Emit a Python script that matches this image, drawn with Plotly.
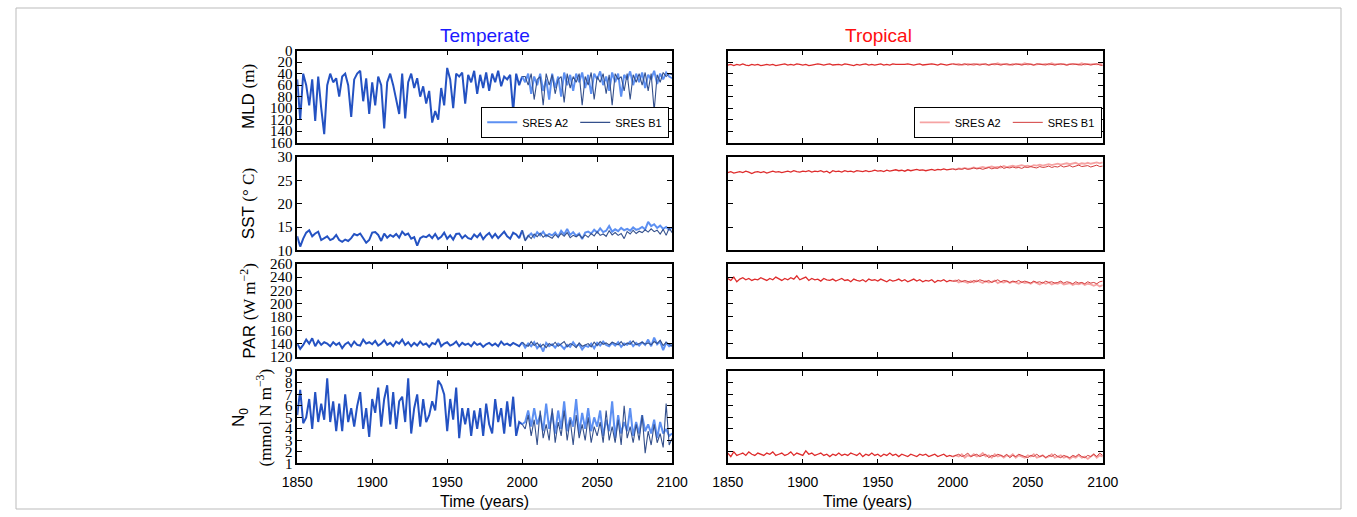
import plotly.graph_objects as go

# ---------------- data (2-year steps) ----------------
years_hist = list(range(1850, 2001, 2))      # 76 points, shared history
years_fut = list(range(2002, 2101, 2))       # 50 points, scenarios

x_ticks = [1850, 1900, 1950, 2000, 2050, 2100]
mld_ticks = [0, 20, 40, 60, 80, 100, 120, 140, 160]
sst_ticks = [10, 15, 20, 25, 30]
par_ticks = [120, 140, 160, 180, 200, 220, 240, 260]
n0_ticks = [1, 2, 3, 4, 5, 6, 7, 8, 9]

# Temperate
temp_mld_hist = [50, 120, 40, 60, 95, 50, 122, 45, 100, 145,
                 60, 40, 55, 48, 80, 45, 40, 60, 115, 50,
                 40, 35, 88, 48, 110, 55, 95, 45, 60, 135,
                 55, 40, 60, 85, 110, 40, 118, 55, 40, 65,
                 48, 80, 62, 92, 70, 125, 105, 120, 65, 95,
                 30, 50, 100, 40, 45, 38, 92, 42, 55, 35,
                 75, 42, 65, 38, 70, 40, 55, 35, 62, 45,
                 50, 42, 105, 40, 60, 45]
temp_mld_a2 = [55, 40, 75, 45, 60, 40, 70, 50, 85, 40,
               65, 45, 80, 38, 60, 42, 70, 40, 55, 38,
               65, 42, 75, 40, 50, 36, 60, 45, 70, 38,
               55, 40, 80, 42, 50, 36, 60, 40, 55, 38,
               65, 42, 50, 35, 58, 40, 50, 38, 45, 48]
temp_mld_b1 = [45, 60, 40, 85, 50, 45, 95, 40, 60, 42,
               75, 50, 45, 90, 40, 65, 45, 55, 40, 95,
               45, 60, 38, 85, 45, 55, 40, 75, 42, 95,
               40, 50, 45, 70, 40, 85, 42, 55, 40, 60,
               38, 70, 40, 105, 42, 55, 38, 45, 40, 42]

temp_sst_hist = [13.0, 10.8, 12.5, 13.8, 14.3, 13.0, 13.6, 14.0, 12.2, 12.6,
                 13.0, 12.2, 12.5, 13.3, 12.2, 11.8, 12.3, 12.0, 12.6, 13.5,
                 13.2, 13.6, 12.6, 11.6, 12.2, 13.8, 13.9, 13.3, 12.0, 13.6,
                 12.7, 13.3, 12.9, 13.5, 12.7, 14.0, 13.3, 13.6, 12.5, 12.8,
                 11.0, 12.6, 13.0, 12.8, 13.3, 12.6, 13.5, 12.4, 12.9, 13.8,
                 12.5, 13.2, 12.3, 13.5, 13.6, 12.6, 13.2, 12.6, 12.4, 13.4,
                 12.8, 13.6, 12.4, 13.2, 13.7, 12.7, 13.5, 12.6, 13.3, 14.0,
                 13.0, 12.5, 13.8, 13.4, 12.6, 14.3]
temp_sst_a2 = [12.2, 13.0, 13.6, 12.8, 13.9, 13.2, 14.0, 13.0, 13.5, 13.2,
               13.8, 12.9, 14.2, 13.4, 14.6, 13.3, 13.9, 13.1, 13.6, 12.4,
               13.8, 14.0, 13.6, 14.4, 13.8, 14.7, 13.9, 14.2, 15.2, 14.0,
               14.5, 14.1, 14.8, 14.3, 14.6, 14.2, 14.9, 14.4, 14.6, 15.0,
               14.5, 16.1, 15.2, 15.6, 14.8, 15.3, 14.6, 15.0, 14.4, 14.9]
temp_sst_b1 = [12.0, 13.2, 12.5, 13.5, 12.9, 13.7, 12.8, 13.3, 13.0, 12.6,
               13.4, 12.8, 13.6, 13.0, 13.8, 12.7, 13.2, 12.9, 13.4, 12.6,
               13.3, 12.8, 13.6, 13.1, 14.0, 13.2, 13.5, 13.0, 14.2, 13.3,
               13.8, 13.2, 13.6, 12.5, 14.0, 13.5, 14.3, 13.6, 14.1, 13.8,
               14.4, 13.9, 14.6, 14.0, 14.3, 13.5, 14.5, 13.2, 14.8, 13.8]

temp_par_hist = [140, 132, 138, 146, 140, 148, 136, 144, 138, 142,
                 140, 136, 142, 138, 141, 133, 139, 142, 136, 143,
                 138, 137, 146, 140, 142, 139, 144, 137, 140, 145,
                 138, 141, 136, 143, 140, 146, 138, 142, 136, 141,
                 137, 143, 138, 140, 135, 141, 139, 147, 136, 140,
                 142, 137, 139, 143, 136, 141, 138, 140, 136, 142,
                 138, 140, 135, 139, 141, 137, 140, 136, 143, 138,
                 140, 137, 141, 138, 136, 142]
temp_par_a2 = [134, 140, 136, 142, 133, 138, 128, 141, 136, 139,
               134, 140, 137, 132, 138, 135, 142, 136, 139, 131,
               137, 135, 140, 133, 141, 137, 143, 138, 136, 141,
               137, 142, 135, 140, 138, 143, 136, 141, 137, 142,
               138, 146, 136, 149, 139, 143, 130, 141, 136, 138]
temp_par_b1 = [138, 136, 143, 137, 141, 135, 139, 134, 140, 137,
               142, 136, 139, 143, 135, 140, 138, 134, 141, 136,
               138, 140, 135, 142, 137, 143, 139, 141, 138, 142,
               140, 138, 143, 137, 141, 139, 144, 138, 140, 142,
               139, 141, 138, 143, 140, 145, 137, 142, 139, 136]

temp_n0_hist = [5.2, 7.4, 4.5, 5.0, 6.6, 4.0, 7.2, 4.6, 6.2, 4.8,
                8.4, 4.6, 6.4, 3.8, 6.2, 3.8, 7.0, 4.6, 5.8, 4.2,
                6.0, 7.2, 4.0, 5.8, 3.3, 6.6, 5.4, 7.6, 4.2, 6.6,
                7.8, 4.4, 7.2, 4.0, 6.4, 6.8, 4.6, 8.4, 3.6, 5.8,
                7.0, 4.2, 6.6, 4.6, 5.2, 6.4, 5.6, 8.2, 7.8, 7.0,
                3.8, 6.6, 4.8, 7.6, 3.2, 5.8, 4.4, 5.8, 3.4, 5.6,
                4.0, 5.8, 3.4, 6.2, 4.4, 3.6, 6.6, 4.6, 5.8, 3.6,
                6.4, 4.2, 6.8, 3.4, 4.6, 4.4]
temp_n0_a2 = [4.6, 5.6, 4.2, 5.8, 4.4, 5.2, 3.8, 6.2, 4.0, 5.4,
              3.6, 5.6, 4.0, 6.4, 3.8, 5.0, 4.2, 6.6, 3.6, 5.4,
              4.0, 5.8, 3.8, 5.0, 4.2, 5.6, 3.4, 4.8, 3.8, 6.4,
              3.2, 5.2, 3.6, 4.6, 3.8, 5.8, 3.4, 4.6, 3.6, 5.2,
              3.8, 4.4, 3.6, 4.8, 3.2, 4.6, 3.6, 4.0, 3.4, 3.6]
temp_n0_b1 = [4.0, 5.2, 3.4, 4.8, 2.6, 5.6, 3.2, 4.4, 3.0, 5.8,
              2.8, 4.6, 3.4, 5.6, 3.0, 4.8, 2.6, 5.2, 3.2, 4.4,
              3.0, 5.0, 2.8, 4.2, 3.4, 4.6, 2.8, 5.6, 3.0, 4.2,
              2.8, 4.8, 2.6, 6.0, 3.2, 4.2, 2.8, 4.4, 3.0, 5.2,
              1.9, 3.8, 2.6, 4.4, 2.8, 3.6, 2.4, 6.2, 2.6, 3.2]

# Tropical
trop_mld_hist = [25, 24, 26, 24, 25, 23, 25, 26, 24, 25,
                 24, 26, 25, 24, 25, 24, 26, 25, 24, 23,
                 25, 24, 25, 23, 24, 25, 24, 26, 25, 24,
                 23, 24, 25, 24, 23, 25, 24, 24, 25, 23,
                 24, 25, 26, 24, 25, 24, 23, 25, 24, 25,
                 24, 23, 25, 24, 25, 23, 24, 24, 25, 24,
                 23, 24, 25, 24, 23, 25, 24, 24, 23, 24,
                 25, 23, 24, 25, 24, 23]
trop_mld_a2 = [24, 23, 25, 24, 23, 24, 25, 23, 24, 23,
               24, 25, 23, 24, 22, 24, 23, 24, 25, 23,
               24, 23, 24, 22, 24, 23, 25, 24, 23, 24,
               23, 24, 22, 24, 23, 24, 23, 25, 23, 24,
               23, 24, 22, 24, 23, 24, 23, 24, 23, 24]
trop_mld_b1 = [24, 25, 24, 23, 25, 24, 23, 24, 25, 24,
               23, 25, 24, 23, 24, 25, 24, 23, 24, 25,
               23, 24, 25, 24, 23, 24, 25, 23, 24, 24,
               25, 23, 24, 25, 24, 23, 24, 25, 24, 23,
               24, 24, 25, 23, 24, 25, 24, 23, 25, 26]

trop_sst_hist = [26.7, 26.9, 26.6, 26.8, 26.9, 26.7, 27.0, 26.8, 26.5, 26.8,
                 26.9, 26.7, 26.9, 26.6, 26.8, 27.0, 26.8, 26.9, 26.7, 26.9,
                 27.0, 26.8, 27.1, 26.9, 26.8, 27.0, 26.9, 27.1, 26.8, 27.0,
                 26.9, 27.1, 26.8, 27.0, 26.6, 27.1, 26.9, 27.0, 26.8, 27.1,
                 26.9, 27.0, 26.8, 27.1, 27.0, 26.9, 27.1, 26.9, 27.0, 27.2,
                 27.0, 27.1, 26.9, 27.2, 27.0, 27.1, 27.3, 27.1, 27.2, 27.0,
                 27.3, 27.1, 27.2, 27.4, 27.2, 27.3, 27.1, 27.3, 27.4, 27.2,
                 27.4, 27.3, 27.5, 27.3, 27.4, 27.5]
trop_sst_a2 = [27.4, 27.6, 27.5, 27.7, 27.5, 27.6, 27.8, 27.6, 27.7, 27.9,
               27.7, 27.8, 28.0, 27.8, 27.9, 27.8, 28.1, 27.9, 28.0, 28.2,
               28.0, 28.1, 28.3, 28.1, 28.2, 28.0, 28.3, 28.2, 28.4, 28.2,
               28.3, 28.5, 28.3, 28.4, 28.6, 28.4, 28.5, 28.7, 28.5, 28.6,
               28.8, 28.5, 28.7, 28.6, 28.8, 28.6, 28.7, 28.9, 28.7, 28.9]
trop_sst_b1 = [27.3, 27.5, 27.4, 27.6, 27.4, 27.5, 27.7, 27.5, 27.6, 27.4,
               27.6, 27.8, 27.5, 27.7, 27.6, 28.1, 27.6, 27.8, 27.7, 27.9,
               27.7, 27.8, 27.6, 27.9, 27.8, 28.0, 27.8, 27.7, 28.0, 27.8,
               27.9, 28.1, 27.8, 28.0, 27.9, 28.2, 27.9, 28.0, 28.2, 27.9,
               28.1, 28.3, 28.0, 28.1, 28.2, 27.9, 28.1, 28.3, 28.0, 28.1]

trop_par_hist = [238, 235, 240, 233, 237, 239, 236, 238, 235, 237,
                 236, 239, 237, 235, 238, 236, 240, 237, 235, 238,
                 236, 239, 237, 242, 236, 238, 240, 235, 238, 236,
                 237, 234, 238, 236, 235, 237, 234, 236, 238, 235,
                 236, 233, 237, 235, 234, 236, 233, 237, 235, 236,
                 234, 237, 235, 233, 236, 234, 235, 237, 234, 236,
                 233, 235, 237, 234, 236, 233, 235, 234, 236, 232,
                 235, 234, 236, 233, 235, 234]
trop_par_a2 = [235, 232, 234, 233, 231, 234, 232, 235, 233, 231,
               234, 232, 233, 235, 231, 233, 232, 234, 231, 233,
               232, 230, 233, 231, 232, 230, 233, 231, 229, 232,
               230, 232, 229, 231, 230, 232, 229, 230, 231, 228,
               230, 229, 231, 228, 230, 229, 227, 229, 226, 228]
trop_par_b1 = [234, 236, 233, 235, 234, 232, 235, 233, 236, 234,
               233, 235, 232, 234, 236, 233, 235, 234, 232, 234,
               233, 235, 232, 234, 233, 231, 234, 232, 233, 231,
               234, 232, 233, 231, 232, 234, 231, 233, 232, 230,
               233, 231, 232, 230, 233, 231, 232, 230, 233, 234]

trop_n0_hist = [1.9, 1.6, 2.0, 1.7, 1.8, 1.9, 1.7, 2.0, 1.8, 1.7,
                1.9, 1.8, 1.7, 1.9, 1.8, 2.0, 1.7, 1.8, 1.9, 1.7,
                1.8, 2.0, 1.7, 1.9, 1.8, 1.7, 2.1, 1.8, 1.9, 1.7,
                1.8, 1.9, 1.7, 1.8, 1.6, 1.8, 1.7, 1.9, 1.7, 1.8,
                1.7, 1.9, 1.8, 1.7, 1.9, 1.6, 1.8, 1.7, 1.9, 1.7,
                1.8, 1.6, 1.8, 1.7, 1.9, 1.7, 1.8, 1.6, 1.8, 1.7,
                1.6, 1.8, 1.7, 1.6, 1.8, 1.7, 1.8, 1.6, 1.7, 1.8,
                1.6, 1.7, 1.8, 1.6, 1.7, 1.6]
trop_n0_a2 = [1.7, 1.6, 1.8, 1.5, 1.7, 1.6, 1.8, 1.6, 1.7, 1.9,
              1.6, 1.7, 1.5, 1.8, 1.6, 1.7, 1.5, 1.7, 1.6, 1.8,
              1.5, 1.7, 1.6, 1.5, 1.7, 1.6, 1.8, 1.5, 1.6, 1.7,
              1.5, 1.6, 1.8, 1.5, 1.6, 1.7, 1.5, 1.6, 1.4, 1.6,
              1.5, 1.7, 1.5, 1.6, 1.4, 1.6, 1.8, 1.5, 1.7, 1.6]
trop_n0_b1 = [1.7, 1.8, 1.6, 1.7, 1.9, 1.6, 1.7, 1.8, 1.6, 1.7,
              1.8, 1.5, 1.7, 1.6, 1.8, 1.7, 1.6, 1.8, 1.5, 1.7,
              1.6, 1.8, 1.7, 1.6, 1.5, 1.7, 1.6, 1.8, 1.6, 1.7,
              1.5, 1.7, 1.6, 1.8, 1.6, 1.5, 1.7, 1.6, 1.5, 1.7,
              1.6, 1.8, 1.6, 1.5, 1.7, 1.6, 1.8, 1.6, 1.9, 1.7]

# ---------------- styling ----------------
W, H = 1357, 517
SANS = "Liberation Sans, Arial, sans-serif"
SERIF = "Liberation Serif, Times New Roman, serif"

col_x = [(288, 672), (729, 1113)]
row_y = [(44, 139), (154, 250), (264, 360), (375, 470)]

colors = {
    0: dict(hist="#2452c2", a2="#5d90f2", b1="#34508c", hw=2.0, aw=2.0, bw=1.1),
    1: dict(hist="#de2c2c", a2="#f6a3a3", b1="#d23c3c", hw=1.3, aw=1.8, bw=1.0),
}

panels = [
    # row, col, hist, a2, b1, range, ticks
    (0, 0, temp_mld_hist, temp_mld_a2, temp_mld_b1, [160, 0], mld_ticks),
    (1, 0, temp_sst_hist, temp_sst_a2, temp_sst_b1, [10, 30], sst_ticks),
    (2, 0, temp_par_hist, temp_par_a2, temp_par_b1, [120, 260], par_ticks),
    (3, 0, temp_n0_hist, temp_n0_a2, temp_n0_b1, [1, 9], n0_ticks),
    (0, 1, trop_mld_hist, trop_mld_a2, trop_mld_b1, [160, 0], mld_ticks),
    (1, 1, trop_sst_hist, trop_sst_a2, trop_sst_b1, [10, 30], sst_ticks),
    (2, 1, trop_par_hist, trop_par_a2, trop_par_b1, [120, 260], par_ticks),
    (3, 1, trop_n0_hist, trop_n0_a2, trop_n0_b1, [1, 9], n0_ticks),
]

fig = go.Figure()
layout = dict(
    width=W, height=H, margin=dict(l=0, r=0, t=0, b=0),
    paper_bgcolor="white", plot_bgcolor="white", showlegend=True,
)

for (r, c, hist, a2, b1, yr, yt) in panels:
    idx = r * 2 + c + 1
    xa = "x" if idx == 1 else f"x{idx}"
    ya = "y" if idx == 1 else f"y{idx}"
    st = colors[c]
    leg = "legend" if c == 0 else "legend2"
    fut_x = [years_hist[-1]] + years_fut
    fig.add_trace(go.Scatter(x=years_hist, y=hist, mode="lines", xaxis=xa, yaxis=ya,
                             line=dict(color=st["hist"], width=st["hw"]),
                             showlegend=False, hoverinfo="skip"))
    fig.add_trace(go.Scatter(x=fut_x, y=[hist[-1]] + a2, mode="lines", xaxis=xa, yaxis=ya,
                             line=dict(color=st["a2"], width=st["aw"]), name="SRES A2",
                             legend=leg, showlegend=(r == 0)))
    fig.add_trace(go.Scatter(x=fut_x, y=[hist[-1]] + b1, mode="lines", xaxis=xa, yaxis=ya,
                             line=dict(color=st["b1"], width=st["bw"]), name="SRES B1",
                             legend=leg, showlegend=(r == 0)))
    x0, x1 = col_x[c]
    y0, y1 = row_y[r]
    layout["xaxis" if idx == 1 else f"xaxis{idx}"] = dict(
        domain=[x0 / W, x1 / W], anchor=ya, range=[1850, 2100],
        tickvals=x_ticks, ticks="inside", ticklen=5, tickcolor="black",
        showline=True, linecolor="black", linewidth=1.5, mirror="ticks",
        showgrid=False, zeroline=False, showticklabels=(r == 3),
        ticklabelstandoff=5,
        tickfont=dict(family=SANS, size=14, color="black"),
    )
    layout["yaxis" if idx == 1 else f"yaxis{idx}"] = dict(
        domain=[1 - y1 / H, 1 - y0 / H], anchor=xa, range=yr,
        tickvals=yt, ticks="inside", ticklen=5, tickcolor="black",
        showline=True, linecolor="black", linewidth=1.5, mirror="ticks",
        showgrid=False, zeroline=False, showticklabels=(c == 0),
        tickfont=dict(family=SERIF, size=15, color="black"),
    )

for name, xr in (("legend", 669), ("legend2", 1112)):
    layout[name] = dict(orientation="h", xanchor="right", yanchor="bottom",
                        x=xr / W, y=1 - 134 / H, bgcolor="white",
                        bordercolor="black", borderwidth=1,
                        font=dict(family=SANS, size=11, color="black"),
                        entrywidth=48, entrywidthmode="pixels", itemwidth=30)

def serif(t):
    return f"<span style='font-family:Liberation Serif'>{t}</span>"

ann = []
ann.append(dict(text="Temperate", x=480 / W, y=1 - 28 / H, xref="paper", yref="paper",
                showarrow=False, yanchor="middle",
                font=dict(family=SANS, size=19, color="#1a1aff")))
ann.append(dict(text="Tropical", x=920 / W, y=1 - 28 / H, xref="paper", yref="paper",
                showarrow=False, yanchor="middle",
                font=dict(family=SANS, size=19, color="#ff1010")))
for cx in (480, 920):
    ann.append(dict(text="Time (years)", x=cx / W, y=1 - 509 / H, xref="paper", yref="paper",
                    showarrow=False, yanchor="middle",
                    font=dict(family=SANS, size=16, color="black")))

ylab = [
    ("MLD " + serif("(m)"), 238, row_y[0]),
    ("SST " + serif("(° C)"), 238, row_y[1]),
    ("PAR " + serif("(W m<sup>−2</sup>)"), 238, row_y[2]),
    ("N<sub>0</sub>", 230, row_y[3]),
    (serif("(mmol N m<sup>−3</sup>)"), 254, row_y[3]),
]
for txt, xpx, (ya0, ya1) in ylab:
    ann.append(dict(text=txt, x=xpx / W, y=1 - (ya0 + ya1) / 2 / H, xref="paper", yref="paper",
                    showarrow=False, textangle=-90, xanchor="center", yanchor="middle",
                    font=dict(family=SANS, size=17, color="black")))
layout["annotations"] = ann
layout["shapes"] = [dict(type="rect", xref="paper", yref="paper", x0=0, y0=0, x1=1, y1=1,
                         line=dict(color="#bbbbbb", width=1))]

fig.update_layout(**layout)
fig.write_html("out.html")
